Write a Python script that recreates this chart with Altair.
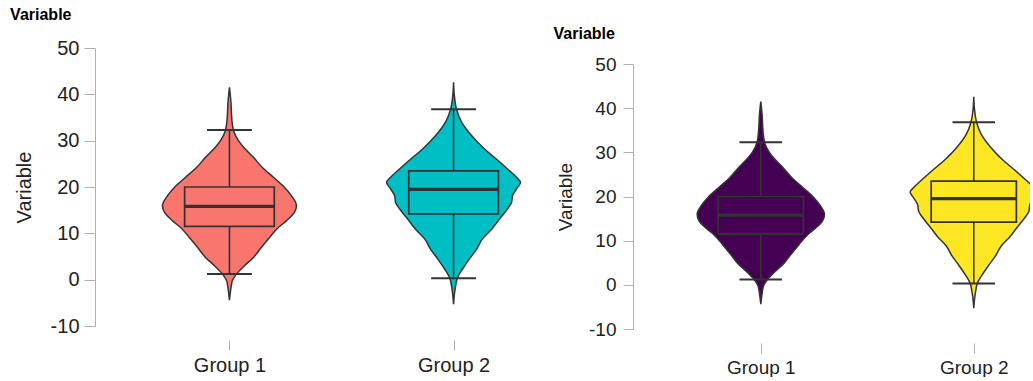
import altair as alt
import pandas as pd

# ---- data -------------------------------------------------------------
groups = ["Group 1", "Group 2"]
group_pos = [1, 2]

# box-plot summaries per group
q1 = [11.5, 14.2]
median = [15.8, 19.5]
q3 = [20.0, 23.5]
whisker_lo = [1.2, 0.3]
whisker_hi = [32.3, 36.8]

# violin outlines: value levels and density half-widths (in group-spacing units)
g1_levels = [41.5, 38.0, 35.8, 33.5, 32.2, 30.0, 28.6, 26.4, 24.2, 22.1, 19.9,
             18.1, 16.0, 14.5, 12.7, 11.3, 9.1, 7.0, 4.8, 3.0, 1.2, -0.2, -1.7, -4.4]
g1_half = [0.0, 0.007, 0.009, 0.013, 0.018, 0.040, 0.063, 0.107, 0.147, 0.196, 0.246,
           0.277, 0.299, 0.290, 0.254, 0.219, 0.179, 0.143, 0.107, 0.067, 0.031, 0.013, 0.007, 0.0]

g2_levels = [42.6, 39.5, 36.8, 34.0, 31.1, 28.2, 26.0, 23.9, 22.1, 21.0, 19.6,
             18.1, 16.7, 15.3, 13.1, 10.9, 8.8, 6.6, 4.5, 2.3, 0.5, -2.0, -5.3]
g2_half = [0.0, 0.004, 0.013, 0.036, 0.080, 0.138, 0.192, 0.241, 0.281, 0.299, 0.281,
           0.263, 0.259, 0.241, 0.205, 0.170, 0.129, 0.103, 0.071, 0.040, 0.018, 0.007, 0.0]

y_ticks = [-10, 0, 10, 20, 30, 40, 50]

palette_left = ["#F8766D", "#00BFC4"]
palette_right = ["#440154", "#FDE725"]

# ---- tables -----------------------------------------------------------
violin_rows = []
for g, p, levels, half in [(groups[0], group_pos[0], g1_levels, g1_half),
                           (groups[1], group_pos[1], g2_levels, g2_half)]:
    for v, h in zip(levels, half):
        violin_rows.append({"group": g, "pos": p, "v": v, "half": h})
violin_df = pd.DataFrame(violin_rows)

box_df = pd.DataFrame({
    "group": groups, "pos": group_pos, "q1": q1, "median": median,
    "q3": q3, "lo": whisker_lo, "hi": whisker_hi,
})

cap_rows = []
for g, p, lo, hi in zip(groups, group_pos, whisker_lo, whisker_hi):
    cap_rows.append({"group": g, "pos": p, "val": lo})
    cap_rows.append({"group": g, "pos": p, "val": hi})
cap_df = pd.DataFrame(cap_rows)

label_expr = "[" + ",".join("'" + g + "'" for g in groups) + "][datum.value - 1]"

FONT = "Liberation Sans"
DARK = "#333333"


def panel(colors, width, height, y_range, x_end, label_size, tick_len,
          label_pad, title_pad, title_offset, title_dx):
    xs = alt.Scale(domain=[0.4, x_end], nice=False, zero=False)
    ys = alt.Scale(domain=[-10, 50], range=y_range, nice=False, zero=False)
    cs = alt.Scale(domain=groups, range=colors)

    x_axis = alt.Axis(values=group_pos, labelExpr=label_expr, title=None,
                      domain=False, grid=False, ticks=True, tickSize=10,
                      tickColor="#b0b0b0", tickWidth=1, offset=14,
                      labelPadding=5, labelFontSize=label_size, labelFont=FONT,
                      labelColor="#222222")
    y_axis = alt.Axis(values=y_ticks, labelExpr="'' + datum.value",
                      title="Variable", grid=False,
                      domainColor="#b0b0b0", tickColor="#b0b0b0",
                      tickSize=tick_len, labelPadding=label_pad,
                      labelFontSize=label_size, labelFont=FONT,
                      labelColor="#222222", titleFont=FONT,
                      titleFontSize=label_size, titleFontWeight="normal",
                      titleColor="#222222", titlePadding=title_pad)

    def X(field):
        return alt.X(field, type="quantitative", scale=xs, axis=x_axis)

    def Y(field):
        return alt.Y(field, type="quantitative", scale=ys, axis=y_axis)

    fill = alt.Fill("group:N", scale=cs, legend=None)

    violin = alt.Chart(violin_df).transform_calculate(
        left="datum.pos - datum.half", right="datum.pos + datum.half"
    ).mark_area(orient="horizontal", stroke=DARK, strokeWidth=1.5,
                interpolate="monotone", clip=True).encode(
        y=Y("v"), x=X("left"), x2="right:Q", fill=fill,
    )

    whisker = alt.Chart(box_df).mark_rule(color=DARK, strokeWidth=1.6, clip=True).encode(
        x=X("pos"), y=Y("lo"), y2="hi:Q"
    )

    box = alt.Chart(box_df).transform_calculate(
        b0="datum.pos - 0.2", b1="datum.pos + 0.2"
    ).mark_rect(stroke=DARK, strokeWidth=1.7, clip=True).encode(
        x=X("b0"), x2="b1:Q", y=Y("q1"), y2="q3:Q", fill=fill
    )

    mid = alt.Chart(box_df).transform_calculate(
        b0="datum.pos - 0.2", b1="datum.pos + 0.2"
    ).mark_rule(color=DARK, strokeWidth=3.2, clip=True).encode(
        x=X("b0"), x2="b1:Q", y=Y("median")
    )

    caps = alt.Chart(cap_df).transform_calculate(
        c0="datum.pos - 0.1", c1="datum.pos + 0.1"
    ).mark_rule(color=DARK, strokeWidth=2, clip=True).encode(
        x=X("c0"), x2="c1:Q", y=Y("val")
    )

    return alt.layer(violin, whisker, box, mid, caps).properties(
        width=width, height=height,
        title=alt.TitleParams(text="Variable", anchor="start", frame="bounds",
                              font=FONT, fontSize=16, fontWeight="bold",
                              color="#000000", offset=title_offset,
                              dx=title_dx),
    )


left_panel = panel(palette_left, 437, 278, [278, 0], 2.35, 20, 11, 5, 16, 15, -4)
right_panel = panel(palette_right, 397, 281, [281, 16], 2.264, 19, 10, 7, 13, 6, -3)

chart = alt.hconcat(left_panel, right_panel, spacing=21).resolve_scale(
    fill="independent"
).properties(
    padding={"left": 10, "top": 7, "right": 0, "bottom": 0},
    background="white",
).configure_view(strokeWidth=0)

chart.save("out.html", embed_options={"renderer": "svg", "actions": False})
